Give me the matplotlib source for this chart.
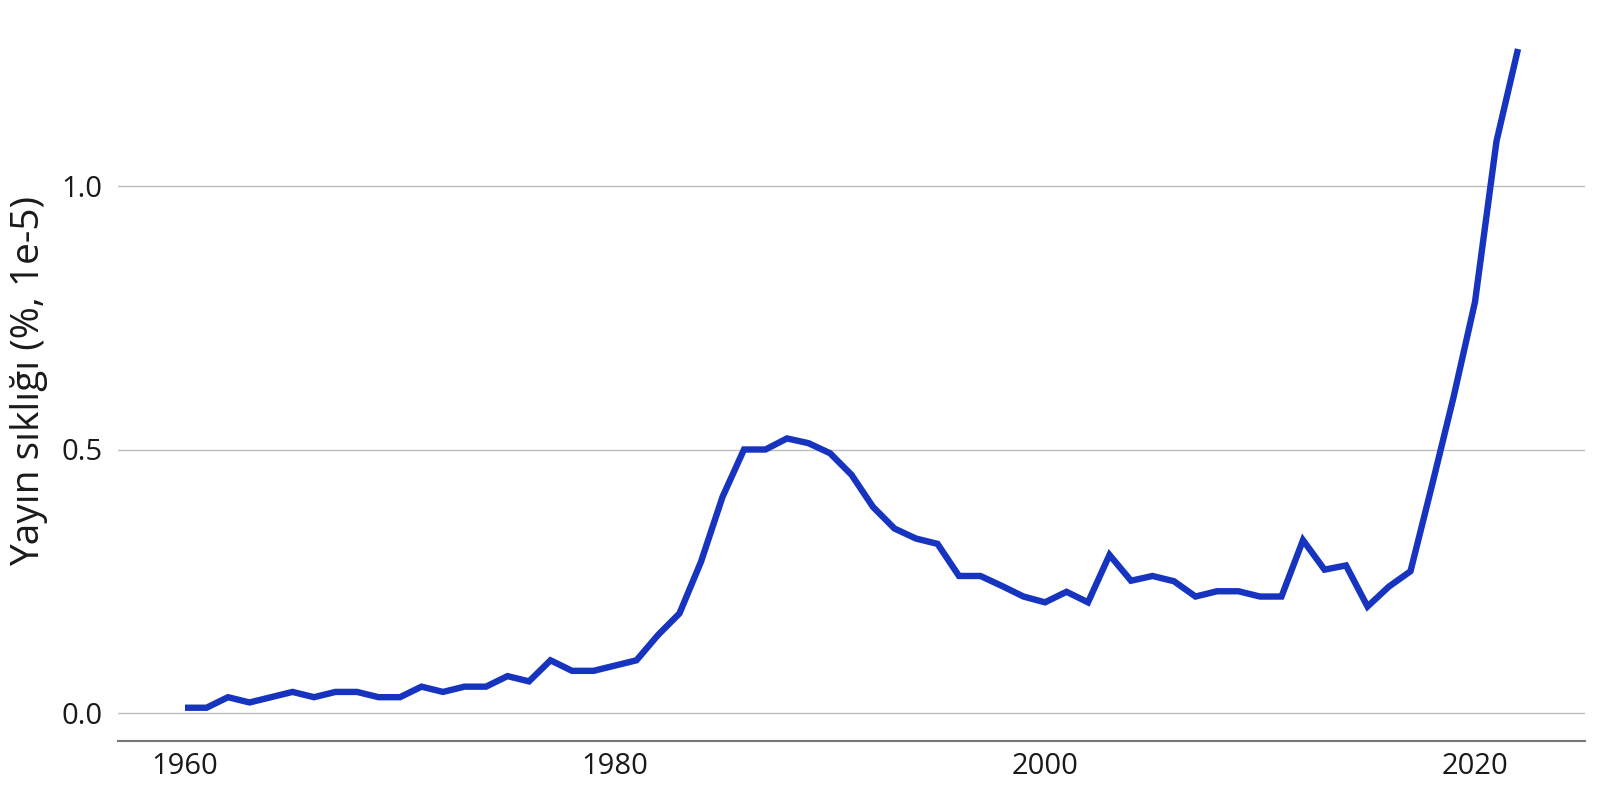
import matplotlib
matplotlib.use("Agg")
import matplotlib.pyplot as plt

plt.rcParams['font.family'] = ['Open Sans', 'DejaVu Sans']

years = list(range(1960, 2023))
values = [0.01, 0.01, 0.03, 0.02, 0.03, 0.04, 0.03, 0.04, 0.04, 0.03,
          0.03, 0.05, 0.04, 0.05, 0.05, 0.07, 0.06, 0.10, 0.08, 0.08,
          0.09, 0.10, 0.148, 0.189, 0.287, 0.41, 0.50, 0.50, 0.521, 0.512,
          0.493, 0.452, 0.391, 0.35, 0.331, 0.321, 0.26, 0.26, 0.241, 0.221,
          0.21, 0.23, 0.21, 0.30, 0.251, 0.26, 0.25, 0.221, 0.231, 0.231,
          0.221, 0.221, 0.328, 0.272, 0.28, 0.202, 0.24, 0.269, 0.432, 0.599,
          0.78, 1.085, 1.26]
yticks = [0.0, 0.5, 1.0]
ytick_labels = ["0.0", "0.5", "1.0"]
xticks = [1960, 1980, 2000, 2020]
ylabel = "Yayın sıklığı (%, 1e-5)"

W, H = 1600, 800
fig = plt.figure(figsize=(16, 8), dpi=100)
left, right, top, bottom = 118, 1585, 20, 741
ax = fig.add_axes([left / W, 1 - bottom / H, (right - left) / W, (bottom - top) / H])

ax.plot(years, values, color="#1634C0", linewidth=4.6, solid_joinstyle="miter",
        solid_capstyle="butt", zorder=3)

x0, ppy = 185.0, 21.5
ax.set_xlim(1960 + (left - x0) / ppy, 1960 + (right - x0) / ppy)
ppu = 527.0
ax.set_ylim(-(bottom - 713) / ppu, (713 - top) / ppu)

ax.set_yticks(yticks)
ax.set_yticklabels(ytick_labels)
ax.set_xticks(xticks)
ax.grid(axis="y", color="#bdbdbd", linewidth=1.0)
ax.set_axisbelow(True)
for s in ["top", "right", "left"]:
    ax.spines[s].set_visible(False)
ax.spines["bottom"].set_color("#777777")
ax.spines["bottom"].set_linewidth(1.5)
ax.tick_params(axis="both", length=0, labelsize=21, colors="#1a1a1a")
ax.tick_params(axis="y", pad=11)
ax.tick_params(axis="x", pad=8)
ax.set_ylabel(ylabel, fontsize=28, color="#1a1a1a", labelpad=10)

fig.savefig("out.png", dpi=100)
